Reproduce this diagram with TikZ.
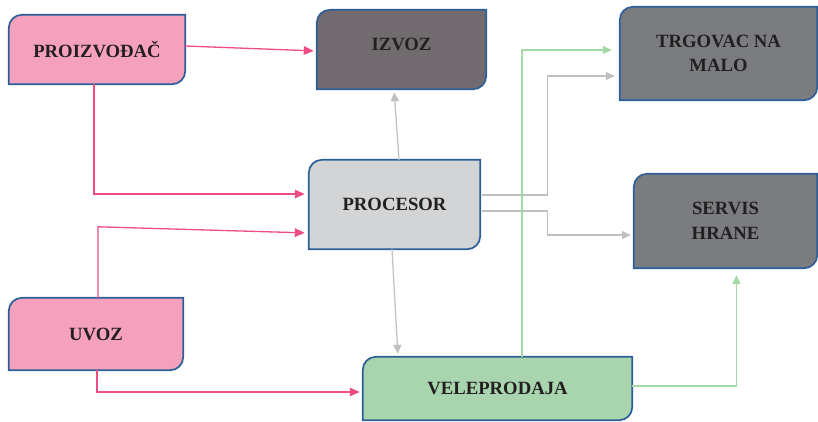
\documentclass[tikz,border=0pt]{standalone}
\usepackage{fontspec}
\setmainfont{Liberation Serif}
\usetikzlibrary{arrows.meta,backgrounds}
\definecolor{frame}{HTML}{2C5F97}
\definecolor{pinkfill}{HTML}{F5A0BD}
\definecolor{exportfill}{HTML}{716B6F}
\definecolor{shopfill}{HTML}{7B7C80}
\definecolor{procfill}{HTML}{D3D4D6}
\definecolor{wholefill}{HTML}{A9D5AE}
\definecolor{pinkline}{HTML}{EE4D82}
\definecolor{grayline}{HTML}{C0C0C2}
\definecolor{greenline}{HTML}{A3D9A5}
\definecolor{ink}{HTML}{231F20}

% box with two rounded corners (top left, bottom right)
\newcommand{\leafbox}[2]{%
  \draw[frame, line width=1.7pt, fill=#2]
    (#1.south west) -- ([yshift=-13pt]#1.north west)
    arc[start angle=180, end angle=90, radius=13pt]
    -- (#1.north east) -- ([yshift=13pt]#1.south east)
    arc[start angle=0, end angle=-90, radius=13pt] -- cycle;}

\begin{document}
\begin{tikzpicture}[
  x=1pt, y=-1pt,
  box/.style={inner sep=0pt, align=center, text=ink,
              font=\fontsize{18.7}{24.5}\selectfont\bfseries},
  pinkarrow/.style={-{Triangle[length=10pt, width=8.5pt]}, line width=1.3pt,
                    draw=pinkline, shorten >=3pt},
  grayarrow/.style={-{Triangle[length=9pt, width=8pt]}, line width=1.2pt,
                    draw=grayline, shorten >=3pt},
  greenarrow/.style={-{Triangle[length=9pt, width=8pt]}, line width=1.3pt,
                     draw=greenline, shorten >=3pt}
]
  \useasboundingbox (0,0) rectangle (818,421);

  \node[box, minimum width=176pt, minimum height=69pt] (proizvodjac) at (97,49.5) {PROIZVOĐAČ};
  \node[box, minimum width=169pt, minimum height=79pt, text depth=10pt] (izvoz) at (401.5,49.5) {IZVOZ};
  \node[box, minimum width=197pt, minimum height=93pt] (trgovac) at (718.5,53.5) {TRGOVAC NA\\MALO};
  \node[box, minimum width=183pt, minimum height=94pt] (servis) at (725.5,221) {SERVIS\\HRANE};
  \node[box, minimum width=171pt, minimum height=89pt] (procesor) at (394.5,204.5) {PROCESOR};
  \node[box, minimum width=174pt, minimum height=72pt] (uvoz) at (96,334) {UVOZ};
  \node[box, minimum width=269pt, minimum height=63pt] (veleprodaja) at (497.5,388.5) {VELEPRODAJA};

  \begin{scope}[on background layer]
    \leafbox{proizvodjac}{pinkfill}
    \leafbox{izvoz}{exportfill}
    \leafbox{trgovac}{shopfill}
    \leafbox{servis}{shopfill}
    \leafbox{procesor}{procfill}
    \leafbox{uvoz}{pinkfill}
    \leafbox{veleprodaja}{wholefill}
  \end{scope}

  % pink flows
  \draw[pinkarrow] ([yshift=3.5pt]proizvodjac.east) -- ([yshift=-1.5pt]izvoz.west);
  \draw[pinkarrow, shorten >=4pt] ([xshift=-3pt]proizvodjac.south) |- ([yshift=10.5pt]procesor.west);
  \draw[pinkarrow, shorten >=4pt] ([xshift=2pt]uvoz.north) -- ++(0,-71) -- ([yshift=-28.5pt]procesor.west);
  \draw[pinkarrow] ([xshift=1pt]uvoz.south) |- ([yshift=-3.5pt]veleprodaja.west);

  % gray flows
  \draw[grayarrow] ([xshift=4.5pt]procesor.north) -- ([xshift=-7.5pt]izvoz.south);
  \draw[grayarrow] ([xshift=-2.5pt]procesor.south) -- ([xshift=-99.5pt]veleprodaja.north);
  \draw[grayarrow, shorten <=2pt, shorten >=5pt] ([yshift=9.5pt]procesor.east) -- ++(67,0) |- ([yshift=-22.5pt]trgovac.west);
  \draw[grayarrow, shorten <=2pt] ([yshift=-6.5pt]procesor.east) -- ++(67,0) |- ([yshift=-14pt]servis.west);

  % green flows
  \draw[greenarrow, shorten >=8pt] ([xshift=24.5pt]veleprodaja.north) |- ([yshift=3.5pt]trgovac.west);
  \draw[greenarrow, shorten >=7pt] ([yshift=2.5pt]veleprodaja.east) -| ([xshift=11pt]servis.south);
\end{tikzpicture}
\end{document}
